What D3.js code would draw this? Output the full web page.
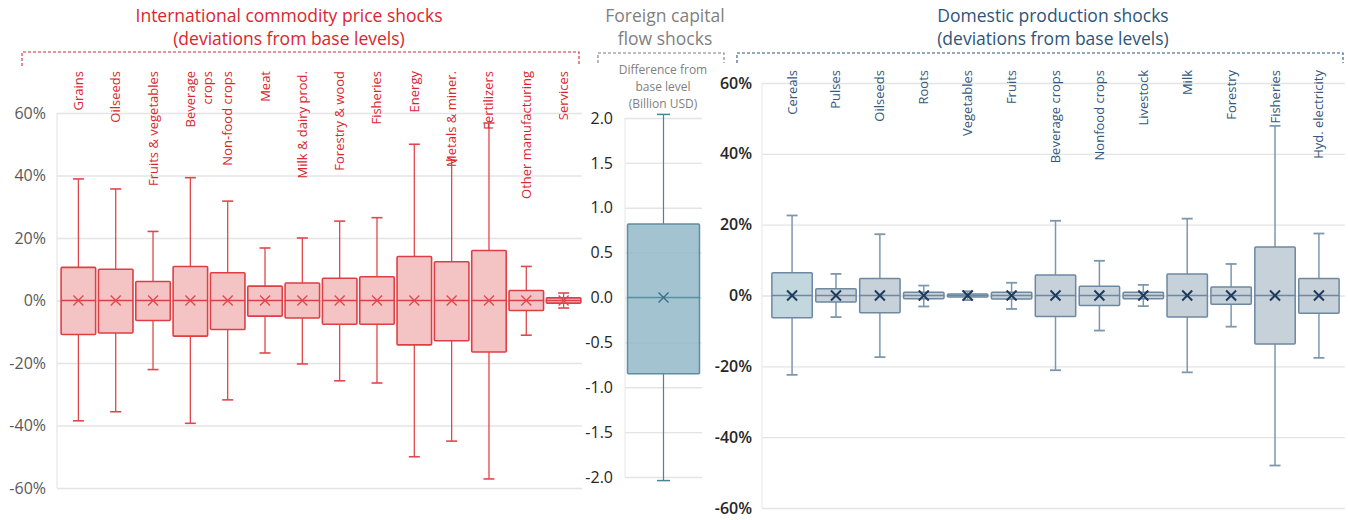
<!DOCTYPE html>
<html><head><meta charset="utf-8">
<script src="https://cdn.jsdelivr.net/npm/d3@7"></script>
<style>body{margin:0;background:#fff}svg{display:block}text{font-family:"Open Sans",sans-serif}</style>
</head><body>
<svg id="c" width="1348" height="520"></svg>
<script>
// ---------- DATA ----------
const leftCats = ["Grains","Oilseeds","Fruits & vegetables","Beverage|crops","Non-food crops","Meat","Milk & dairy prod.","Forestry & wood","Fisheries","Energy","Metals & miner.","Fertilizers","Other manufacturing","Services"];
const leftMin  = [-38.5,-35.6,-22.1,-39.3,-31.8,-16.8,-20.3,-25.7,-26.4,-50.0,-45.0,-57.1,-11.1,-2.4];
const leftQ1   = [-10.9,-10.4,-6.4,-11.4,-9.3,-5.0,-5.6,-7.6,-7.6,-14.2,-12.9,-16.5,-3.2,-0.85];
const leftMed  = [0,0,0,0,0,0,0,0,0,0,0,0,0,0];
const leftQ3   = [10.6,10.0,6.1,10.9,8.9,4.6,5.6,7.1,7.6,14.1,12.4,16.0,3.2,0.85];
const leftMax  = [38.9,35.7,22.1,39.3,31.8,16.8,20.0,25.4,26.5,50.0,44.9,56.8,10.9,2.4];
const leftMean = [0,0,0,0,0,0,0,0,0,0,0,0,0,0];
const leftTicks = [-60,-40,-20,0,20,40,60];

const midCats = ["Foreign capital flows"];
const midMin = [-2.04], midQ1 = [-0.85], midMed = [0], midQ3 = [0.82], midMax = [2.04], midMean = [0];
const midTicks = [-2.0,-1.5,-1.0,-0.5,0.0,0.5,1.0,1.5,2.0];

const rightCats = ["Cereals","Pulses","Oilseeds","Roots","Vegetables","Fruits","Beverage crops","Nonfood crops","Livestock","Milk","Forestry","Fisheries","Hyd. electricity"];
const rightMin  = [-22.4,-6.1,-17.4,-3.1,-1.3,-3.8,-21.1,-9.9,-3.0,-21.7,-8.8,-48.0,-17.6];
const rightQ1   = [-6.3,-1.8,-4.9,-0.9,-0.4,-1.0,-5.9,-2.8,-0.9,-6.1,-2.5,-13.7,-5.0];
const rightMed  = [0,0,0,0,0,0,0,0,0,0,0,0,0];
const rightQ3   = [6.4,1.9,4.8,0.9,0.4,0.9,5.8,2.6,0.9,6.1,2.4,13.7,4.8];
const rightMax  = [22.6,6.1,17.3,2.8,1.2,3.6,21.1,9.8,3.0,21.7,8.9,47.9,17.5];
const rightMean = [0,0,0,0,0,0,0,0,0,0,0,0,0];
const rightTicks = [-60,-40,-20,0,20,40,60];

// ---------- DRAW ----------
const svg = d3.select("#c");

function rows(cats,mn,q1,md,q3,mx,me){return cats.map((c,i)=>({c,min:mn[i],q1:q1[i],med:md[i],q3:q3[i],max:mx[i],mean:me[i],i}));}

function grid(g,y,ticks,x0,x1,fmt,labelX,labelColor,axisColor){
  const ax = d3.axisLeft(y).tickValues(ticks).tickSize(-(x1-x0)).tickPadding(x0-labelX).tickFormat(fmt);
  const a = g.append("g").attr("transform",`translate(${x0},0)`).call(ax);
  a.select(".domain").attr("stroke",axisColor).attr("d",`M0,${y.range()[0]}V${y.range()[1]}`);
  a.selectAll(".tick line").attr("stroke","#e4e4e4").attr("stroke-width",1.3);
  a.selectAll(".tick text").attr("fill",labelColor).style("font-size","16px").style("font-family","Open Sans, sans-serif");
  return a;
}

function boxes(g,data,x,y,st){
  const bw = x.bandwidth();
  const gg = g.selectAll("g.box").data(data).join("g").attr("class","box")
    .attr("transform",d=>`translate(${x(d.c)},0)`);
  const cx = bw/2;
  gg.append("line").attr("x1",cx).attr("x2",cx).attr("y1",d=>y(d.max)).attr("y2",d=>y(d.q3)).attr("stroke",st.whisk).attr("stroke-width",st.ww);
  gg.append("line").attr("x1",cx).attr("x2",cx).attr("y1",d=>y(d.q1)).attr("y2",d=>y(d.min)).attr("stroke",st.whisk).attr("stroke-width",st.ww);
  gg.append("line").attr("x1",cx-st.cap).attr("x2",cx+st.cap).attr("y1",d=>y(d.max)).attr("y2",d=>y(d.max)).attr("stroke",st.whisk).attr("stroke-width",st.ww+0.3);
  gg.append("line").attr("x1",cx-st.cap).attr("x2",cx+st.cap).attr("y1",d=>y(d.min)).attr("y2",d=>y(d.min)).attr("stroke",st.whisk).attr("stroke-width",st.ww+0.3);
  gg.append("rect").attr("x",0).attr("width",bw).attr("y",d=>y(d.q3)).attr("height",d=>Math.max(1,y(d.q1)-y(d.q3)))
    .attr("fill",d=>st.fillFn?st.fillFn(d):st.fill).attr("fill-opacity",st.fo).attr("stroke",st.stroke).attr("stroke-width",st.sw).attr("rx",1);
  gg.append("line").attr("x1",0).attr("x2",bw).attr("y1",d=>y(d.med)).attr("y2",d=>y(d.med)).attr("stroke",st.stroke).attr("stroke-width",st.sw);
  const s = st.xs;
  gg.append("path").attr("d",d=>{const yy=y(d.mean);return `M${cx-s},${yy-s}L${cx+s},${yy+s}M${cx-s},${yy+s}L${cx+s},${yy-s}`;})
    .attr("stroke",st.xc).attr("stroke-width",st.xw).attr("fill","none");
}

function bracket(x0,x1,yTop,yBot,color){
  svg.append("path").attr("d",`M${x0},${yBot}V${yTop}H${x1}V${yBot}`).attr("fill","none")
    .attr("stroke",color).attr("stroke-width",1.1).attr("stroke-dasharray","3,2");
}

function title(lines,cx,ys,color,size){
  const t = svg.append("text").attr("text-anchor","middle").attr("fill",color).style("font-size",size+"px");
  lines.forEach((l,i)=>t.append("tspan").attr("x",cx).attr("y",ys[i]).text(l));
}

const pct = d => d + "%";

// ---- LEFT PANEL ----
const gL = svg.append("g");
const yL = d3.scaleLinear().domain([-60,60]).range([488,113]);
const xL = d3.scaleBand().domain(leftCats).range([60,582]).paddingInner(0.075).paddingOuter(0.03);
grid(gL,yL,leftTicks,57,582,pct,46,"#595959","#e0e0e0");
boxes(gL,rows(leftCats,leftMin,leftQ1,leftMed,leftQ3,leftMax,leftMean),xL,yL,
  {whisk:"#e0474c",ww:1.3,cap:5.5,fill:"#f3c0c1",fo:0.95,stroke:"#de3f45",sw:1.6,xc:"#e0474c",xw:1.3,xs:5});
leftCats.forEach(c=>{
  const parts = c.split("|");
  const cx = xL(c)+xL.bandwidth()/2;
  parts.forEach((p,j)=>{
    gL.append("text").attr("transform",`translate(${cx+4.5+j*17},71) rotate(-90)`)
      .attr("text-anchor","end").attr("fill","#d9262e").style("font-size","13px").text(p);
  });
});
title(["International commodity price shocks","(deviations from base levels)"],289,[22,45],"#d9262e",17.5);
bracket(22,579,52,66,"#d9262e");

// ---- MIDDLE PANEL ----
const gM = svg.append("g");
const yM = d3.scaleLinear().domain([-2,2]).range([477,118]);
const xM = d3.scaleBand().domain(midCats).range([625,702]).paddingInner(0).paddingOuter(0.035);
grid(gM,yM,midTicks,625,702,d=>d.toFixed(1),613,"#262626","#e6e6e6");
boxes(gM,rows(midCats,midMin,midQ1,midMed,midQ3,midMax,midMean),xM,yM,
  {whisk:"#4a8499",ww:1.2,cap:6.5,fill:"#8db4c4",fo:0.8,stroke:"#5a8ea3",sw:1.5,xc:"#3b6e86",xw:1.4,xs:5});
title(["Difference from","base level","(Billion USD)"],663,[74,91,108],"#7f7f7f",12);
title(["Foreign capital","flow shocks"],665,[22,45],"#7f7f7f",17.5);
bracket(598,724,53,63,"#7f7f7f");

// ---- RIGHT PANEL ----
const gR = svg.append("g");
const yR = d3.scaleLinear().domain([-60,60]).range([508,83]);
const xR = d3.scaleBand().domain(rightCats).range([771,1340]).paddingInner(0.08).paddingOuter(0.02);
grid(gR,yR,rightTicks,762,1345,pct,752,"#262626","#e6e6e6");
gR.selectAll(".tick text").style("font-weight","600");
boxes(gR,rows(rightCats,rightMin,rightQ1,rightMed,rightQ3,rightMax,rightMean),xR,yR,
  {whisk:"#7d97ad",ww:1.5,cap:5.5,fill:"#c7d1da",fillFn:d=>d.i===0?"#c3d7df":"#c7d1da",fo:1,stroke:"#6d88a1",sw:1.5,xc:"#1f3b5b",xw:2,xs:5});
rightCats.forEach(c=>{
  const cx = xR(c)+xR.bandwidth()/2;
  gR.append("text").attr("transform",`translate(${cx+4.5},70) rotate(-90)`)
    .attr("text-anchor","end").attr("fill","#34587e").style("font-size","13px").text(c);
});
title(["Domestic production shocks","(deviations from base levels)"],1053,[22,45],"#2f5478",17.5);
bracket(737,1343,53,63,"#2f5478");
</script>
</body></html>
